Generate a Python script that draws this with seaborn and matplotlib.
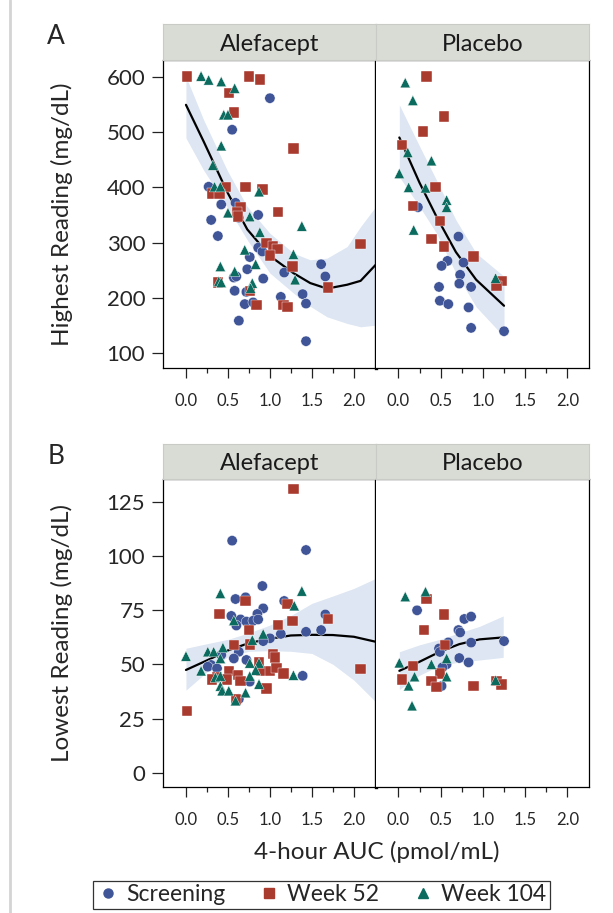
import matplotlib.pyplot as plt
import seaborn as sns
import pandas as pd
from matplotlib.lines import Line2D
from matplotlib.ticker import FixedLocator

# ---- data ----
# A: highest reading, Alefacept
hi_ale_scr_x = [1.00, 0.55, 0.27, 0.42, 0.59, 0.63, 0.86, 0.30, 0.38, 0.86, 0.91, 0.76, 0.73, 1.17,
                1.61, 1.66, 0.57, 0.60, 0.92, 0.58, 0.72, 1.39, 1.13, 1.43, 0.70, 0.80, 0.63, 1.43]
hi_ale_scr_y = [561, 504, 401, 369, 372, 345, 350, 341, 312, 291, 284, 274, 252, 246,
                261, 239, 237, 239, 235, 213, 211, 207, 202, 190, 189, 192, 159, 122]
hi_ale_w52_x = [0.01, 0.75, 0.88, 0.51, 0.57, 1.28, 0.48, 0.71, 0.91, 0.31, 0.40, 0.65, 0.61, 1.10,
                0.62, 0.96, 1.04, 1.09, 1.00, 1.27, 1.69, 2.08, 0.38, 0.76, 0.84, 1.16, 1.21]
hi_ale_w52_y = [600, 600, 595, 571, 535, 470, 400, 400, 396, 389, 388, 365, 356, 355,
                347, 299, 294, 289, 277, 257, 219, 297, 228, 213, 187, 187, 184]
hi_ale_w104_x = [0.18, 0.27, 0.42, 0.58, 0.45, 0.50, 0.42, 0.32, 0.34, 0.41, 0.87, 0.50, 0.76, 0.88,
                 1.38, 0.70, 1.28, 0.83, 0.41, 0.58, 0.39, 0.42, 1.30, 0.79, 0.77]
hi_ale_w104_y = [601, 594, 591, 579, 531, 531, 475, 440, 401, 401, 392, 354, 347, 319,
                 330, 287, 279, 261, 257, 248, 230, 228, 233, 227, 218]

# A: highest reading, Placebo
hi_pla_scr_x = [0.23, 0.71, 0.58, 0.51, 0.77, 0.73, 0.72, 0.86, 0.48, 0.49, 0.59, 0.83, 0.86, 1.25]
hi_pla_scr_y = [364, 311, 267, 258, 264, 242, 226, 220, 220, 195, 189, 183, 146, 140]
hi_pla_w52_x = [0.33, 0.54, 0.29, 0.04, 0.44, 0.17, 0.49, 0.39, 0.54, 0.89, 1.22, 1.16]
hi_pla_w52_y = [600, 528, 501, 476, 400, 366, 339, 306, 293, 275, 231, 222]
hi_pla_w104_x = [0.08, 0.17, 0.11, 0.39, 0.01, 0.12, 0.32, 0.57, 0.57, 0.18, 1.15]
hi_pla_w104_y = [589, 557, 463, 448, 425, 400, 399, 377, 364, 323, 236]

# B: lowest reading, Alefacept
lo_ale_scr_x = [0.55, 1.43, 0.91, 0.59, 0.71, 1.17, 0.92, 0.54, 0.65, 0.85, 0.60, 0.72, 0.80, 0.86, 1.66,
                1.43, 1.61, 1.13, 1.00, 0.92, 0.63, 0.42, 0.57, 0.72, 0.30, 0.26, 0.37, 0.76, 1.39, 0.63]
lo_ale_scr_y = [107.0, 102.7, 86.1, 80.1, 80.9, 79.2, 75.8, 72.3, 70.7, 73.2, 67.9, 69.7, 70.1, 70.7, 73.0,
                65.0, 65.8, 64.0, 62.0, 60.7, 55.8, 54.3, 52.7, 52.0, 49.7, 48.9, 48.1, 42.0, 44.7, 34.0]
lo_ale_w52_x = [1.28, 0.71, 0.40, 1.21, 1.10, 1.27, 1.69, 0.75, 0.57, 0.76, 1.04, 1.06, 0.87, 0.90,
                1.00, 1.08, 1.16, 0.51, 0.62, 0.49, 0.37, 0.31, 0.65, 0.96, 0.60, 2.08, 0.01]
lo_ale_w52_y = [130.7, 79.2, 73.2, 77.7, 68.1, 70.0, 70.9, 65.8, 58.9, 59.2, 54.7, 53.2, 51.2, 47.0,
                47.0, 48.3, 45.8, 47.0, 45.0, 43.0, 44.3, 43.0, 42.3, 38.9, 33.8, 47.7, 28.6]
lo_ale_w104_x = [0.41, 1.38, 1.29, 0.00, 0.26, 0.33, 0.44, 0.41, 0.92, 0.79, 0.18, 0.35, 0.41,
                 0.76, 0.87, 0.83, 0.76, 0.87, 1.28, 0.41, 0.43, 0.51, 0.71, 0.59, 0.57]
lo_ale_w104_y = [82.7, 83.8, 77.0, 53.8, 55.8, 55.8, 57.7, 52.7, 64.0, 61.2, 47.0, 44.0, 44.6,
                 50.6, 50.6, 47.3, 44.6, 40.9, 45.0, 40.0, 37.8, 37.8, 36.9, 33.2, 70.2]

# B: lowest reading, Placebo
lo_pla_scr_x = [0.22, 0.78, 0.86, 0.71, 0.73, 0.59, 0.86, 1.25, 0.48, 0.49, 0.72, 0.83, 0.57, 0.52, 0.51]
lo_pla_scr_y = [74.9, 70.9, 72.0, 65.8, 64.7, 60.1, 60.0, 60.7, 57.3, 55.7, 52.9, 50.9, 50.0, 48.6, 40.0]
lo_pla_w52_x = [0.33, 0.54, 0.30, 0.55, 0.17, 0.49, 0.04, 0.39, 0.45, 0.89, 1.16, 1.22]
lo_pla_w52_y = [80.0, 73.0, 65.7, 58.9, 49.2, 45.8, 43.0, 42.3, 39.7, 40.0, 42.4, 40.7]
lo_pla_w104_x = [0.08, 0.32, 0.01, 0.39, 0.57, 0.19, 0.12, 0.57, 0.16, 1.15]
lo_pla_w104_y = [81.2, 83.5, 50.7, 50.0, 52.7, 44.3, 40.1, 44.3, 30.9, 42.7]

# smoothed fits with confidence bands
fit_hi_ale_x = [0.0, 0.21, 0.49, 0.73, 1.0, 1.28, 1.48, 1.68, 1.92, 2.08, 2.26]
fit_hi_ale_y = [549, 483, 392, 324, 276, 245, 227, 217, 224, 231, 260]
fit_hi_ale_hi = [600, 522, 431, 365, 317, 281, 269, 272, 293, 329, 365]
fit_hi_ale_lo = [489, 431, 365, 305, 245, 209, 185, 166, 154, 148, 151]

fit_hi_pla_x = [0.01, 0.25, 0.45, 0.68, 0.92, 1.25]
fit_hi_pla_y = [490, 408, 347, 283, 233, 186]
fit_hi_pla_hi = [549, 474, 413, 341, 281, 239]
fit_hi_pla_lo = [419, 365, 317, 245, 184, 130]

fit_lo_ale_x = [0.0, 0.25, 0.5, 0.75, 1.0, 1.25, 1.5, 1.75, 2.0, 2.26]
fit_lo_ale_y = [47.4, 51.8, 56.4, 59.8, 61.8, 63.3, 63.6, 63.5, 62.7, 60.4]
fit_lo_ale_hi = [57.4, 59.5, 61.5, 64.5, 68.1, 72.5, 78.1, 81.5, 85.0, 89.6]
fit_lo_ale_lo = [38.1, 46.5, 53.5, 56.0, 56.3, 56.0, 55.0, 50.0, 42.7, 32.7]

fit_lo_pla_x = [0.01, 0.25, 0.49, 0.72, 0.96, 1.24]
fit_lo_pla_y = [47.0, 51.2, 55.8, 59.3, 61.5, 62.4]
fit_lo_pla_hi = [55.8, 59.0, 61.5, 64.5, 67.5, 72.3]
fit_lo_pla_lo = [38.4, 45.0, 49.5, 51.0, 52.0, 53.2]

visits = ["Screening", "Week 52", "Week 104"]
arms = ["Alefacept", "Placebo"]
colors = {"Screening": "#3f5597", "Week 52": "#a83a2e", "Week 104": "#0a6b5e"}
markers = {"Screening": "o", "Week 52": "s", "Week 104": "^"}


def frame(groups):
    parts = []
    for visit, (xs, ys) in zip(visits, groups):
        parts.append(pd.DataFrame({"auc": xs, "value": ys, "visit": visit}))
    return pd.concat(parts, ignore_index=True)


panels = {
    ("A", "Alefacept"): (frame([(hi_ale_scr_x, hi_ale_scr_y), (hi_ale_w52_x, hi_ale_w52_y),
                                (hi_ale_w104_x, hi_ale_w104_y)]),
                         (fit_hi_ale_x, fit_hi_ale_y, fit_hi_ale_lo, fit_hi_ale_hi)),
    ("A", "Placebo"): (frame([(hi_pla_scr_x, hi_pla_scr_y), (hi_pla_w52_x, hi_pla_w52_y),
                              (hi_pla_w104_x, hi_pla_w104_y)]),
                       (fit_hi_pla_x, fit_hi_pla_y, fit_hi_pla_lo, fit_hi_pla_hi)),
    ("B", "Alefacept"): (frame([(lo_ale_scr_x, lo_ale_scr_y), (lo_ale_w52_x, lo_ale_w52_y),
                                (lo_ale_w104_x, lo_ale_w104_y)]),
                         (fit_lo_ale_x, fit_lo_ale_y, fit_lo_ale_lo, fit_lo_ale_hi)),
    ("B", "Placebo"): (frame([(lo_pla_scr_x, lo_pla_scr_y), (lo_pla_w52_x, lo_pla_w52_y),
                              (lo_pla_w104_x, lo_pla_w104_y)]),
                       (fit_lo_pla_x, fit_lo_pla_y, fit_lo_pla_lo, fit_lo_pla_hi)),
}

sns.set_theme(style="ticks")
plt.rcParams["font.family"] = ["Lato", "DejaVu Sans"]

W, H = 613, 913
fig = plt.figure(figsize=(6.13, 9.13), dpi=100)

# pixel layout
x_left, x_mid, x_right = 163.3, 375.7, 589.3
rows = {
    "A": dict(strip_top=24.5, top=60.0, bottom=368.3, ylim=(73, 630), yticks=[100, 200, 300, 400, 500, 600],
              ylabel="Highest Reading (mg/dL)", xpad=11),
    "B": dict(strip_top=444.0, top=479.3, bottom=787.3, ylim=(-6.7, 135.3), yticks=[0, 25, 50, 75, 100, 125],
              ylabel="Lowest Reading (mg/dL)", xpad=11),
}

for letter, r in rows.items():
    for i, arm in enumerate(arms):
        x0 = x_left if i == 0 else x_mid
        x1 = x_mid if i == 0 else x_right
        ax = fig.add_axes([x0 / W, 1 - r["bottom"] / H, (x1 - x0) / W, (r["bottom"] - r["top"]) / H])
        df, (fx, fy, flo, fhi) = panels[(letter, arm)]

        ax.fill_between(fx, flo, fhi, color="#dde6f2", lw=0, zorder=1)
        sns.lineplot(x=fx, y=fy, color="black", lw=1.6, ax=ax, zorder=2, sort=False)
        sns.scatterplot(data=df, x="auc", y="value", hue="visit", style="visit",
                        palette=colors, markers=markers, s=55, edgecolor="white",
                        linewidth=0.3, legend=False, ax=ax, zorder=3)

        ax.set_xlim(-0.27, 2.26)
        ax.set_ylim(*r["ylim"])
        ax.set_xlabel("")
        ax.set_ylabel("")
        ax.set_xticks([0.0, 0.5, 1.0, 1.5, 2.0])
        ax.set_xticklabels(["0.0", "0.5", "1.0", "1.5", "2.0"])
        ax.xaxis.set_minor_locator(FixedLocator([0.25, 0.75, 1.25, 1.75]))
        ax.tick_params(axis="x", which="major", length=7, width=0.9, labelsize=12, pad=r["xpad"],
                       color="#222222")
        ax.tick_params(axis="x", which="minor", length=3.5, width=0.9, color="#222222")
        for sp in ax.spines.values():
            sp.set_color("black")
            sp.set_linewidth(0.9)
        if i == 0:
            ax.set_yticks(r["yticks"])
            ax.tick_params(axis="y", length=8, width=0.9, labelsize=16, pad=5, color="#222222")
            ax.spines["right"].set_linewidth(2.4)
        else:
            ax.set_yticks(r["yticks"])
            ax.tick_params(axis="y", left=False, labelleft=False)
            ax.spines["left"].set_visible(False)

        # strip header
        sax = fig.add_axes([x0 / W, 1 - r["top"] / H, (x1 - x0) / W, (r["top"] - r["strip_top"]) / H])
        sax.set_facecolor("#d9dcd5")
        sax.set_xticks([])
        sax.set_yticks([])
        for sp in sax.spines.values():
            sp.set_color("#c9cbc6")
            sp.set_linewidth(0.8)
        sax.text(0.5, 0.45, arm, ha="center", va="center", fontsize=17, color="#1a1a1a",
                 transform=sax.transAxes)

    fig.text(56 / W, 1 - (r["strip_top"] + 12.5) / H, letter, fontsize=19, ha="center", va="center")
    fig.text(62 / W, 1 - (r["top"] + r["bottom"]) / 2 / H, r["ylabel"], rotation=90,
             fontsize=17.5, ha="center", va="center")

fig.text((x_left + x_right) / 2 / W, 1 - 852 / H, "4-hour AUC (pmol/mL)", fontsize=17.5,
         ha="center", va="center")

handles = [Line2D([], [], ls="none", marker=markers[v], color=colors[v], markersize=6.5) for v in visits]
leg = fig.legend(handles, visits, loc="upper center", bbox_to_anchor=(321.5 / W, 1 - 881 / H), ncol=3,
                 frameon=True, fancybox=False, fontsize=16.5, handletextpad=0.3, columnspacing=1.4,
                 borderpad=0.15, borderaxespad=0, handlelength=1.0)
leg.get_frame().set_edgecolor("black")
leg.get_frame().set_linewidth(0.9)

fig.add_artist(Line2D([10 / W, 10 / W], [0, 1], transform=fig.transFigure, color="#d4d4d4", lw=2))

fig.savefig("out.png", dpi=100)
